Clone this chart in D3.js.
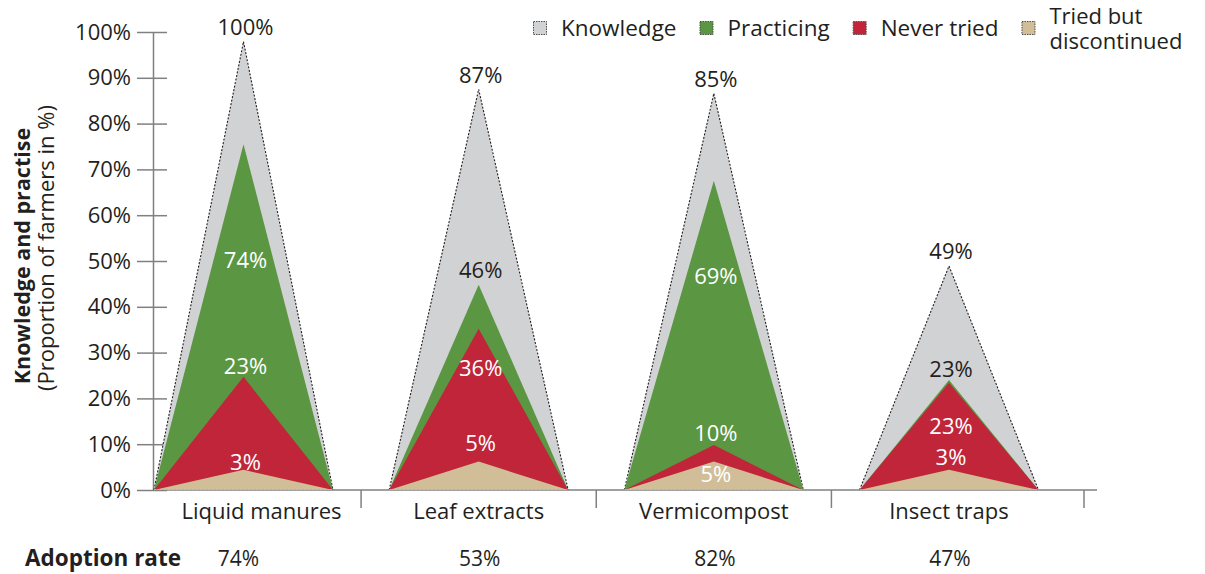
<!DOCTYPE html>
<html>
<head>
    <meta charset="utf-8">
    <title>Knowledge and practise</title>
    <script src="https://d3js.org/d3.v7.min.js"></script>
    <style>
        body { margin: 0; background: #fff; }
        text { font-family: "Open Sans", "Noto Sans", sans-serif; fill: #231f20; }
    </style>
</head>
<body>
    <div id="chart"></div>
    <script>
        // categories and values
        const categories = ["Liquid manures", "Leaf extracts", "Vermicompost", "Insect traps"]
        const layers = ["Knowledge", "Practicing", "Never tried", "Tried but discontinued"]
        // printed labels (%)
        const knowledgeLabel = [100, 87, 85, 49]
        const practicingLabel = [74, 46, 69, 23]
        const neverTriedLabel = [23, 36, 10, 23]
        const discontinuedLabel = [3, 5, 5, 3]
        // apex heights as drawn (%)
        const knowledgeApex = [97.9, 87.5, 86.6, 48.9]
        const practicingApex = [75.5, 44.8, 67.5, 24.0]
        const neverTriedApex = [24.7, 35.2, 9.8, 23.4]
        const discontinuedApex = [4.4, 6.2, 6.2, 4.4]
        const adoptionRate = [74, 53, 82, 47]
        const yTicks = [0, 10, 20, 30, 40, 50, 60, 70, 80, 90, 100]

        const colors = ["#d1d2d4", "#5b9642", "#c0253a", "#d1be98"]
        // label offset (px) from each layer's apex; negative = above the apex
        const labelNudge = [
            [-15, 116, -11, -8],
            [-14, -15, 39, -19],
            [-14, 95, -12, 12],
            [-15, -11, 43, -13]
        ]

        const W = 1205, H = 574
        const svg = d3.select("#chart").append("svg")
            .attr("width", W).attr("height", H)

        const y = d3.scaleLinear().domain([0, 100]).range([490, 32])
        const x = d3.scalePoint().domain(categories).range([243.5, 949])
        const halfBase = 89.5
        const axisX = 153

        // y axis
        const yAxis = svg.append("g")
            .attr("transform", `translate(${axisX},0)`)
            .call(d3.axisLeft(y).tickValues(yTicks).tickFormat(d => d + "%")
                .tickSizeInner(16).tickSizeOuter(0).tickPadding(6))
        yAxis.select(".domain").attr("stroke", "#808080").attr("stroke-width", 1.5)
        yAxis.selectAll(".tick line").attr("x1", 14).attr("stroke", "#808080").attr("stroke-width", 1.5)
        yAxis.selectAll(".tick text").style("font-size", "22px").attr("fill", "#231f20")
            .style("font-family", '"Open Sans", sans-serif')

        // baseline and category separators
        svg.append("line")
            .attr("x1", axisX).attr("x2", 1097)
            .attr("y1", y(0)).attr("y2", y(0))
            .attr("stroke", "#808080").attr("stroke-width", 1.5)
        const step = x.step()
        const seps = categories.map((c, i) => i < categories.length - 1 ? x(c) + step / 2 : x(c) + 135)
        svg.selectAll(".sep").data(seps).join("line")
            .attr("class", "sep")
            .attr("x1", d => d).attr("x2", d => d)
            .attr("y1", y(0)).attr("y2", y(0) + 18)
            .attr("stroke", "#808080").attr("stroke-width", 1.5)

        const apexes = [knowledgeApex, practicingApex, neverTriedApex, discontinuedApex]
        const labels = [knowledgeLabel, practicingLabel, neverTriedLabel, discontinuedLabel]

        // triangles
        categories.forEach((cat, i) => {
            const cx = x(cat)
            const g = svg.append("g")
            apexes.forEach((arr, L) => {
                const pts = [[cx - halfBase, y(0)], [cx, y(arr[i])], [cx + halfBase, y(0)]]
                g.append("path")
                    .attr("d", d3.line()(pts) + "Z")
                    .attr("fill", colors[L])
                if (L === 0) {
                    g.append("path")
                        .attr("d", d3.line()(pts))
                        .attr("fill", "none")
                        .attr("stroke", "#231f20")
                        .attr("stroke-width", 1.1)
                        .attr("stroke-dasharray", "2,1.6")
                }
            })
            g.append("line")
                .attr("x1", cx - halfBase).attr("x2", cx + halfBase)
                .attr("y1", y(0) - 0.5).attr("y2", y(0) - 0.5)
                .attr("stroke", "#d9a3a3").attr("stroke-width", 1)
                .attr("stroke-dasharray", "2,2")

            // value labels
            labels.forEach((arr, L) => {
                const dy = labelNudge[i][L]
                const above = dy < 0
                const dark = L === 0 || (above && L === 1)
                g.append("text")
                    .attr("x", cx + 2)
                    .attr("y", y(apexes[L][i]) + dy)
                    .attr("dy", "0.36em")
                    .attr("text-anchor", "middle")
                    .style("font-size", "22px")
                    .style("fill", dark ? "#231f20" : "#ffffff")
                    .text(arr[i] + "%")
            })

            // category name
            svg.append("text")
                .attr("x", cx + (i === 0 ? 18 : 0))
                .attr("y", 511).attr("dy", "0.36em")
                .attr("text-anchor", "middle")
                .style("font-size", "22px")
                .text(cat)

            // adoption rate
            svg.append("text")
                .attr("x", cx - 5 + (i === 0 ? 0 : 6))
                .attr("y", 558).attr("dy", "0.36em")
                .attr("text-anchor", "middle")
                .style("font-size", "21px")
                .text(adoptionRate[i] + "%")
        })

        svg.append("text")
            .attr("x", 25).attr("y", 558).attr("dy", "0.36em")
            .style("font-size", "22.5px").style("font-weight", "bold")
            .text("Adoption rate")

        // y axis title
        svg.append("text")
            .attr("transform", "translate(22,256) rotate(-90)")
            .attr("text-anchor", "middle").attr("dy", "0.36em")
            .style("font-size", "21.5px").style("font-weight", "bold")
            .text("Knowledge and practise")
        svg.append("text")
            .attr("transform", "translate(46,248) rotate(-90)")
            .attr("text-anchor", "middle").attr("dy", "0.36em")
            .style("font-size", "22px")
            .text("(Proportion of farmers in %)")

        // legend
        let lx = 533
        layers.forEach((name, L) => {
            const item = svg.append("g").attr("transform", `translate(${lx},0)`)
            item.append("rect")
                .attr("x", 0.5).attr("y", 21.5).attr("width", 13).attr("height", 13)
                .attr("fill", colors[L])
                .attr("stroke", "#4d4d4d").attr("stroke-width", 1)
                .attr("stroke-dasharray", "1.5,1")
            if (name === "Tried but discontinued") {
                item.append("text").attr("x", 28).attr("y", 16).attr("dy", "0.36em")
                    .style("font-size", "22px").text("Tried but")
                item.append("text").attr("x", 28).attr("y", 41).attr("dy", "0.36em")
                    .style("font-size", "22px").text("discontinued")
            } else {
                const t = item.append("text")
                    .attr("x", 28).attr("y", 28).attr("dy", "0.36em")
                    .style("font-size", "22.5px")
                    .text(name)
                lx += 28 + t.node().getComputedTextLength() + 23
            }
        })
    </script>
</body>
</html>
